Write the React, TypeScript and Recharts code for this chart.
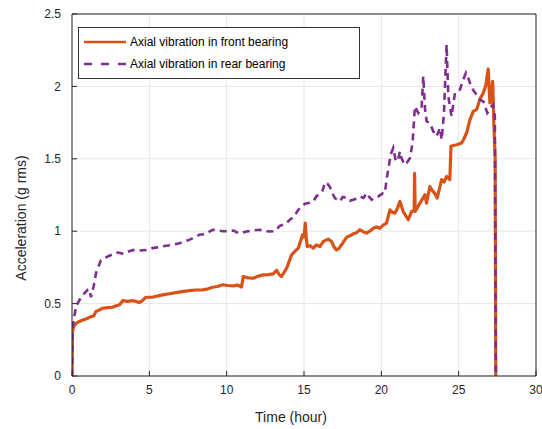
import { LineChart, Line, XAxis, YAxis, CartesianGrid, Legend } from 'recharts';

const FONT = 'Liberation Sans, Arial, Helvetica, sans-serif';
const TEXT = '#262626';
const FRONT_COLOR = '#D95319';
const REAR_COLOR = '#7E2F8E';

const xTicks = [0, 5, 10, 15, 20, 25, 30];
const yTicks = [0, 0.5, 1, 1.5, 2, 2.5];

// front bearing (orange, solid)
const frontHours = [
  0, 0.03, 0.1, 0.26, 0.45, 0.69, 0.95, 1.23, 1.4, 1.55, 1.75, 1.98, 2.3, 2.63, 2.85, 3.06, 3.28, 3.6,
  3.92, 4.15, 4.35, 4.55, 4.78, 5.2, 5.5, 5.86, 6.3, 6.72, 7.1, 7.58, 8.0, 8.45, 8.8, 9.09, 9.4, 9.74,
  10.05, 10.43, 10.7, 10.96, 11.07, 11.4, 11.72, 12.05, 12.37, 12.7, 13.01, 13.23, 13.4, 13.55, 13.88,
  14.2, 14.4, 14.63, 14.91, 15.0, 15.08, 15.15, 15.21, 15.4, 15.6, 15.8, 16.03, 16.25, 16.57, 16.78,
  16.95, 17.1, 17.25, 17.43, 17.76, 18.0, 18.18, 18.4, 18.62, 18.85, 19.05, 19.25, 19.48, 19.7, 19.9,
  20.1, 20.33, 20.56, 20.72, 20.88, 21.05, 21.2, 21.41, 21.74, 21.96, 22.12, 22.15, 22.19, 22.5, 22.82,
  22.92, 23.14, 23.3, 23.46, 23.61, 23.9, 24.05, 24.22, 24.43, 24.5, 24.6, 24.87, 25.19, 25.35, 25.51,
  25.73, 25.94, 26.16, 26.37, 26.59, 26.76, 26.91, 27.02, 27.12, 27.2, 27.28, 27.36, 27.4,
];
const frontAccel = [
  0, 0.3, 0.34, 0.364, 0.375, 0.387, 0.395, 0.41, 0.415, 0.445, 0.455, 0.468, 0.472, 0.475, 0.485, 0.49,
  0.52, 0.515, 0.52, 0.515, 0.507, 0.52, 0.544, 0.544, 0.552, 0.56, 0.568, 0.576, 0.583, 0.59, 0.594,
  0.595, 0.602, 0.613, 0.618, 0.63, 0.625, 0.622, 0.628, 0.615, 0.687, 0.678, 0.675, 0.69, 0.698, 0.7,
  0.705, 0.73, 0.7, 0.687, 0.745, 0.837, 0.86, 0.883, 0.975, 0.96, 1.056, 0.95, 0.894, 0.9, 0.883, 0.905,
  0.894, 0.929, 0.945, 0.929, 0.89, 0.871, 0.88, 0.906, 0.959, 0.97, 0.982, 0.99, 1.01, 0.995, 0.987, 1.0,
  1.02, 1.03, 1.02, 1.04, 1.055, 1.148, 1.13, 1.125, 1.16, 1.206, 1.137, 1.079, 1.137, 1.14, 1.4, 1.137,
  1.194, 1.252, 1.194, 1.309, 1.28, 1.26, 1.229, 1.356, 1.34, 1.378, 1.356, 1.586, 1.59, 1.597, 1.609,
  1.64, 1.678, 1.77, 1.828, 1.84, 1.909, 1.955, 2.01, 2.12, 1.886, 1.95, 2.035, 1.724, 1.5, 0,
];

// rear bearing (purple, dashed)
const rearHours = [
  0, 0.04, 0.1, 0.26, 0.58, 0.8, 1.01, 1.12, 1.23, 1.4, 1.55, 1.87, 2.1, 2.41, 2.95, 3.3, 3.92, 4.35, 4.8,
  5.2, 5.6, 6.08, 6.5, 6.94, 7.58, 8.23, 8.6, 9.09, 9.4, 9.74, 10.1, 10.43, 10.8, 11.29, 11.7, 12.15, 12.5,
  12.8, 13.1, 13.44, 13.8, 14.09, 14.35, 14.63, 15.06, 15.3, 15.6, 15.8, 16.03, 16.2, 16.35, 16.5, 16.68,
  16.84, 17.0, 17.32, 17.5, 17.76, 17.96, 18.18, 18.4, 18.62, 18.85, 19.05, 19.2, 19.37, 19.6, 19.8, 20.12,
  20.23, 20.34, 20.45, 20.6, 20.77, 20.94, 21.1, 21.2, 21.3, 21.52, 21.7, 21.85, 22.02, 22.17, 22.39, 22.6,
  22.71, 22.82, 22.93, 23.14, 23.36, 23.57, 23.79, 23.9, 24.05, 24.22, 24.33, 24.54, 24.76, 25.08, 25.3,
  25.47, 25.62, 25.84, 26.16, 26.37, 26.59, 26.85, 27.12, 27.23, 27.34, 27.4,
];
const rearAccel = [
  0, 0.33, 0.38, 0.48, 0.544, 0.57, 0.595, 0.6, 0.544, 0.62, 0.71, 0.8, 0.815, 0.83, 0.853, 0.845, 0.87,
  0.867, 0.87, 0.883, 0.89, 0.9, 0.905, 0.917, 0.94, 0.975, 0.98, 1.01, 1.005, 1.0, 1.0, 1.005, 0.985,
  0.998, 1.006, 1.01, 1.0, 0.998, 1.0, 1.037, 1.05, 1.079, 1.1, 1.148, 1.19, 1.195, 1.206, 1.24, 1.263,
  1.28, 1.337, 1.33, 1.305, 1.26, 1.229, 1.206, 1.236, 1.229, 1.21, 1.217, 1.225, 1.24, 1.23, 1.263, 1.24,
  1.217, 1.235, 1.24, 1.263, 1.263, 1.36, 1.425, 1.528, 1.575, 1.482, 1.5, 1.551, 1.505, 1.459, 1.48,
  1.505, 1.609, 1.862, 1.816, 1.85, 2.07, 1.85, 1.759, 1.747, 1.69, 1.655, 1.713, 1.632, 1.817, 2.289,
  1.932, 1.793, 1.955, 1.978, 2.047, 2.093, 2.058, 1.99, 1.943, 1.909, 1.897, 1.817, 1.862, 1.874, 1.793, 0,
];

const frontData = frontHours.map((t, i) => ({ t, v: frontAccel[i] }));
const rearData = rearHours.map((t, i) => ({ t, v: rearAccel[i] }));

const tickStyle = { fontSize: 12, fill: TEXT, fontFamily: FONT };

function LegendBox() {
  return (
    <svg width={280} height={50} style={{ display: 'block' }}>
      <line x1={5} x2={47} y1={14} y2={14} stroke={FRONT_COLOR} strokeWidth={2.5} />
      <text x={51} y={14} dominantBaseline='central' fontSize={12} fill='#000' fontFamily={FONT}>
        Axial vibration in front bearing
      </text>
      <line x1={5} x2={47} y1={36} y2={36} stroke={REAR_COLOR} strokeWidth={2.5} strokeDasharray='8 9' />
      <text x={51} y={36} dominantBaseline='central' fontSize={12} fill='#000' fontFamily={FONT}>
        Axial vibration in rear bearing
      </text>
    </svg>
  );
}

export default function App() {
  return (
    <div style={{ position: 'absolute', left: 0, top: 0, background: '#fff' }}>
      <LineChart width={542} height={429} margin={{ top: 13, right: 5, bottom: 0, left: 0 }}>
        <CartesianGrid stroke='#e6e6e6' strokeWidth={1} />
        <XAxis
          dataKey='t'
          type='number'
          domain={[0, 30]}
          ticks={xTicks}
          interval={0}
          allowDataOverflow
          height={53}
          tickSize={-5}
          tickMargin={14}
          tick={tickStyle}
          axisLine={{ stroke: TEXT }}
          tickLine={{ stroke: TEXT }}
          label={{
            content: () => (
              <text x={291} y={417} textAnchor='middle' dominantBaseline='central' fontSize={14} fill={TEXT} fontFamily={FONT}>
                Time (hour)
              </text>
            ),
          }}
        />
        <XAxis
          xAxisId='top'
          orientation='top'
          type='number'
          domain={[0, 30]}
          ticks={xTicks}
          interval={0}
          allowDataOverflow
          height={1}
          tickSize={-5}
          tick={false}
          axisLine={{ stroke: TEXT }}
          tickLine={{ stroke: TEXT }}
        />
        <YAxis
          type='number'
          domain={[0, 2.5]}
          ticks={yTicks}
          interval={0}
          allowDataOverflow
          width={72}
          tickSize={-5}
          tickMargin={16}
          tick={tickStyle}
          axisLine={{ stroke: TEXT }}
          tickLine={{ stroke: TEXT }}
          label={{
            content: () => (
              <text
                x={21}
                y={218}
                transform='rotate(-90, 21, 218)'
                textAnchor='middle'
                dominantBaseline='central'
                fontSize={14}
                fill={TEXT}
                fontFamily={FONT}
              >
                Acceleration (g rms)
              </text>
            ),
          }}
        />
        <YAxis
          yAxisId='right'
          orientation='right'
          type='number'
          domain={[0, 2.5]}
          ticks={yTicks}
          interval={0}
          allowDataOverflow
          width={1}
          tickSize={-5}
          tick={false}
          axisLine={{ stroke: TEXT }}
          tickLine={{ stroke: TEXT }}
        />
        <Legend
          layout='vertical'
          align='center'
          verticalAlign='middle'
          content={() => <LegendBox />}
          wrapperStyle={{
            position: 'absolute',
            left: 78,
            top: 27,
            width: 282,
            height: 52,
            boxSizing: 'border-box',
            border: '1px solid #333',
            background: '#fff',
          }}
        />
        <Line
          data={frontData}
          dataKey='v'
          name='Axial vibration in front bearing'
          type='linear'
          stroke={FRONT_COLOR}
          strokeWidth={3.2}
          strokeLinejoin='round'
          dot={false}
          isAnimationActive={false}
        />
        <Line
          data={rearData}
          dataKey='v'
          name='Axial vibration in rear bearing'
          type='linear'
          stroke={REAR_COLOR}
          strokeWidth={2.6}
          strokeDasharray='7 5'
          dot={false}
          isAnimationActive={false}
        />
      </LineChart>
    </div>
  );
}
